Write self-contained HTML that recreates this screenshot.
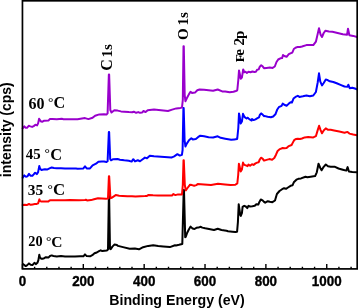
<!DOCTYPE html>
<html><head><meta charset="utf-8"><style>
html,body{margin:0;padding:0;background:#fff;}
svg{display:block;will-change:transform;}
.sans{font-family:"Liberation Sans",sans-serif;font-weight:bold;}
.serif{font-family:"Liberation Serif",serif;font-weight:bold;}
</style></head><body>
<svg width="358" height="308" viewBox="0 0 358 308">
<rect width="358" height="308" fill="#fff"/>
<g fill="none" stroke-width="2" stroke-linejoin="round" stroke-linecap="round">
<polyline stroke="#000" points="23,264.1 24,264.8 25.7,266.1 27,265.4 29,263.4 30.7,264.8 32.4,265.1 34.4,262.8 35.8,264.1 37.4,262.8 38.4,260.1 39.3,254.7 40,257.4 41.1,258.7 42.5,258.7 44.2,258.2 45.9,257.2 48.4,257.6 50,256 51.7,255.4 53.4,256 56.8,256.4 61,256.1 65,256.4 70,256.4 75,256.6 80,256.2 83.4,256.3 85,254.4 86.7,256.1 90.1,256.3 92.3,255.2 94.5,253.3 96.8,252.5 99,251.1 100.7,250.3 102.3,251.1 104.6,250.7 106.8,250.5 108,249.4 108.85,196 109.15,196 110,248.8 110.7,249.2 112.4,246.6 114.6,244.4 116.9,244.9 118,245.9 123,247.1 129.7,248.8 134.8,248.4 139,249.3 143.1,247.2 148.2,245.9 153.2,245.2 158.2,245.9 163.2,246.4 169.9,247.1 175,245.2 176,245.4 179,244.8 182.3,244 183.7,190 184,190 185.2,237.2 185.8,236.8 187.2,232.7 188.7,229.7 190.6,226.6 192.6,228.6 194.5,229 196.4,227.8 198.4,227.6 200.8,226.8 202.3,227.6 205.2,228.3 209,229 214,230 217.75,228.75 221.5,230 226.5,230.75 228,231.2 232.4,231.7 235.3,232.1 237.1,231.7 237.9,222.2 238.7,204.2 239.4,209 240.3,215.2 240.8,215.9 241.9,213.2 242.6,206.9 244.2,205.8 245.8,206.5 247.3,208.1 248.5,205.8 250.1,206.5 252.4,206.2 254.75,205.8 256.3,204.2 258.3,204.6 259.4,201.9 260.8,199.5 262.6,200.3 264,201.9 265.2,202.7 267.8,201.2 269.8,201.8 272.4,202.2 275,200.5 276.9,194 279.5,191 282.1,189.2 284.1,188.2 286,188.8 288,187.5 290.6,185.8 292.5,185.3 293.8,182.3 296.4,179.7 298.4,178.8 301,178.4 305.5,176.7 307.3,177.2 310.7,176.7 315.1,176.1 316.8,172.3 318.5,163.7 320.3,168 321.6,170.3 323.7,166.8 325.8,164.5 328,166.3 330.7,166.8 335,166.8 338.5,168.5 342.8,169.7 346.3,170.6 347.6,167.1 348.9,171.5 352.3,172 357,172.3"/>
<polyline stroke="#ff0000" points="22.7,205.1 24.7,204.8 26.7,205.1 29,204 30.7,204.8 32.7,204.4 34.8,204.1 36.8,203.9 38.1,203.4 39.4,199.4 40.1,201.1 41.5,201.5 43.5,201.6 48.4,201.4 49.5,200.5 50.5,200.3 56.8,200.3 65,200.3 70,200.1 79,200.3 85,200.1 85.8,199.7 87,200.4 91,200.1 94,199.3 98,198.2 102,198.4 106,198.7 108,198.6 108.9,176.2 109.2,176.2 110.4,198.2 111.6,197.8 115.7,195.1 119.2,195.7 122.7,195.9 127.4,196.3 132,196.3 135.5,196.6 140,196.3 145,196.1 147,195.9 148.6,194.9 153,195.3 158,195.6 163,195.6 168.2,195.4 172,195.4 173.4,194.1 175.4,195.1 178,194.4 182,194.4 182.8,185 183.5,160.3 183.8,160.3 184.8,185 185.8,190.4 187.5,188 189.5,185.4 190,184.7 192,185.1 194.2,185.8 196.3,185.1 197.7,184.1 204,184.4 211,185.1 218,183.7 225,184.4 230.5,185.1 235.4,184.7 237.3,183.5 238.2,175 238.9,163.8 239.5,166 240.7,171.6 241.9,169.6 243,162.6 244.2,164.9 245.8,165.3 247.6,166.1 248.5,164.5 250.1,165.7 252,164.3 253.6,164.9 255.5,163.4 257.1,162.6 258.7,162.2 259.8,159.5 261,157.75 262.6,158.6 264,160.6 264.2,160.6 266.5,159.9 269.3,159.1 272.1,159.7 274.3,158 276,154.7 277.6,151 279.9,149.1 282.7,148 284.3,148.3 286.6,148 288.8,146.1 291.6,145 292.7,142.9 294.4,139.8 296.1,139 297.8,138.7 300,139 302,138.5 304.7,137.4 308.1,137.1 313.3,137.4 315.9,136.2 317.7,130.1 319.1,125.8 320.6,130.1 322,133.3 323.7,130.5 325.8,128.4 328.1,129.8 330.7,129.8 334.1,130.5 339.3,131.5 344.5,132.7 347.5,131.9 349.4,133.6 353.2,134.5 357,135.3"/>
<polyline stroke="#0000ff" points="22.7,177.8 24.3,175.4 26,176.8 27.4,176.4 29,173.9 30.7,175.8 32.4,175.8 33.7,174.4 35.1,172.7 36.8,174.1 38.1,172.1 39.3,166 40.1,168.7 41.5,170 43.5,169.5 45,169.2 47.5,169.4 50,168.2 51.7,167.5 54,167.9 56.8,168.2 61,168.3 65,168.4 70,168.5 76,168.6 77.5,168.7 83.4,168.4 85,166.4 86.7,168.4 90,168.4 92.6,165.4 96,163.7 98.4,161.7 101.8,161.4 104,161.5 106.5,162 107.6,161.2 108.85,132 109.15,132 110.2,159 111,160.3 113.2,159.2 117.6,159 119.9,159.7 124.3,160.3 128.8,160.8 131.6,161.6 133.3,159.2 135,161.4 137.8,160.3 140,161.2 142,159.7 144.9,157.6 147,158.3 149.8,155.8 154,156.3 161,156.7 168,157.2 171.4,157.6 174.2,156.3 177.4,154.2 179.8,155.6 181.9,154.9 182.6,150 183.4,108 183.7,108 184.6,140 185.4,146.5 186.8,143.6 189,140.3 191.3,138.3 192.8,139.4 195.8,139 198,137.2 200.3,135.7 204.1,136.3 208.6,137.2 213.1,137.5 217.7,136.3 220.7,137.8 225.2,138.7 231.2,139.8 234.3,139.4 237.1,139 237.3,138 238.3,128 239,113.4 239.6,116 240.7,123.6 241.9,121.6 243,113.8 244.2,116.5 245.4,117.7 246.5,118.5 247.7,117.7 248.5,118.5 250.1,119.7 251.6,120.5 252,119 253.6,120.1 255.5,119.3 257.5,118.1 259,117.3 259.8,115 261.2,113.4 262.6,114.6 264,116.2 264.2,115.9 267.6,116.8 270.9,117.3 273.2,116.5 275.4,114.3 277.1,109.8 278.8,107.2 281.6,105.9 282.7,103.6 284.3,104.8 286.6,105.7 288.8,103.6 290.5,102.3 291.9,102.5 293.5,98.6 295.5,96.9 297.8,95.8 299.4,96.9 302.9,96.3 306.4,95.5 309.9,96.3 313.3,95.5 315.9,92 317.7,82.5 319,73.3 320.3,81.6 322,85.4 323.7,83 325.8,79.5 327.2,79.9 329.8,81.3 333.3,82 336.7,83.3 341.1,85.1 344.5,86.5 347.6,86.8 348.3,84.7 349.7,88.2 352.3,87.7 354.9,88.5 357,89.4"/>
<polyline stroke="#9900cc" points="22.7,128.4 24.3,126.4 25.7,127.8 27,127.8 28.7,125.8 30.4,126.4 32.1,126.9 33.7,126.1 35.4,124.8 37.1,125.4 38.1,123.4 39.1,118.7 39.8,120 40.8,121.1 41,121.4 42.5,121.7 44.2,120.7 48.4,120.6 50,118.9 52.5,119 56.8,119.2 61.8,118.8 63.5,119.2 70,119.2 77.5,119.2 85,118.1 88.4,119.1 92.6,117.7 95.1,115.7 99.3,114.4 104,114.3 106.5,114.5 107.6,113.4 108.85,74.6 109.15,74.6 110.3,110 111.5,112.5 114.3,110.3 117.6,110.6 121,111.4 124.3,111.7 128.8,112.1 132.2,112.3 133.8,111.7 136.1,112.8 138.3,112.1 140,112.8 142,112.6 143.5,111 145.6,112.1 147.7,110.3 154,109.6 161,110.3 168,111 172.1,109.6 176.3,108.4 180.5,107.9 182,107.5 182.8,100 183.5,46.3 183.8,46.3 184.7,95 185.4,101.2 186.8,98.3 189,94.1 190.5,91.8 192,92.9 195,92.6 197.3,90.3 199.6,89.5 204.1,89.8 208.6,90.3 213.1,90.7 217.7,89.5 222.2,91.4 225.2,91.4 229.7,92.3 233.5,91.8 235.8,91 237.1,90.5 237.3,90 238.3,80 239,70.6 239.6,73 240.7,78.8 241.9,77.6 243.2,69.4 244.2,72.2 245.4,71.8 246.9,72.9 248.5,71.8 250.5,72.2 252.4,71.5 254.4,72 255.9,71.8 257.1,69.8 258.7,69.4 259.8,66.7 261.2,65.3 262.6,66.3 264,68.2 266.5,67.9 269.8,67.6 272.6,67.9 274.8,66.5 276.5,62 278.2,59.5 280.4,58.3 282.1,58.1 283,55 284.3,56 286.6,56.8 288.8,54.2 291,53.1 292.4,52.5 293.8,49 295.5,47.8 297.8,46.9 300,46.9 302,46.5 306.4,45.1 313.3,45.1 315.9,41.7 317.7,33.9 319,28.3 320.6,34.7 322,37 323.7,33 325.5,30.7 328.9,31.5 332.4,31.8 337.6,33 342.8,34.2 347.1,34.7 348,28.7 349.4,35.2 353.2,35.9 357,37"/>
</g>
<path d="M22.45 268.9 V264.1 M34.62 268.9 V266.7 M46.79 268.9 V266.7 M58.97 268.9 V266.7 M71.14 268.9 V266.7 M83.31 268.9 V264.1 M95.48 268.9 V266.7 M107.65 268.9 V266.7 M119.83 268.9 V266.7 M132.00 268.9 V266.7 M144.17 268.9 V264.1 M156.34 268.9 V266.7 M168.51 268.9 V266.7 M180.69 268.9 V266.7 M192.86 268.9 V266.7 M205.03 268.9 V264.1 M217.20 268.9 V266.7 M229.37 268.9 V266.7 M241.55 268.9 V266.7 M253.72 268.9 V266.7 M265.89 268.9 V264.1 M278.06 268.9 V266.7 M290.23 268.9 V266.7 M302.41 268.9 V266.7 M314.58 268.9 V266.7 M326.75 268.9 V264.1 M338.92 268.9 V266.7 M351.09 268.9 V266.7" stroke="#000" stroke-width="1.4" fill="none"/>
<rect x="22.45" y="0.8" width="334.75" height="268.1" fill="none" stroke="#000" stroke-width="1.7"/>
<g class="sans" font-size="13.4" fill="#000" stroke="#000" stroke-width="0.35"><text transform="translate(22.45,285.6) scale(1,1.16)" text-anchor="middle">0</text><text transform="translate(83.31,285.6) scale(1,1.16)" text-anchor="middle">200</text><text transform="translate(144.17,285.6) scale(1,1.16)" text-anchor="middle">400</text><text transform="translate(205.03,285.6) scale(1,1.16)" text-anchor="middle">600</text><text transform="translate(265.89,285.6) scale(1,1.16)" text-anchor="middle">800</text><text transform="translate(326.75,285.6) scale(1,1.16)" text-anchor="middle">1000</text></g>
<text class="sans" font-size="14.2" x="177" y="305" text-anchor="middle">Binding Energy (eV)</text>
<text class="sans" font-size="14" transform="translate(10.5,129.7) rotate(-90)" text-anchor="middle">intensity (cps)</text>
<g class="serif">
<text font-size="16" x="28.6" y="108.5">60</text>
<text font-size="14.85" transform="translate(25.8,159.4) scale(1,1.05)">45</text>
<text font-size="15.4" x="27.8" y="195.3">35</text>
<text font-size="14.3" x="28.3" y="246.4">20</text>
<text font-size="16.2" x="53.6" y="108.2">C</text>
<text font-size="16.4" x="50.3" y="159.7">C</text>
<text font-size="16.8" x="52.9" y="195.2">C</text>
<text font-size="15.5" x="51.3" y="246.5">C</text>
</g>
<g font-family="Liberation Serif" font-weight="bold" font-size="13.5">
<text x="47.9" y="105.6">°</text>
<text x="44.4" y="157.4">°</text>
<text x="47.6" y="193.1">°</text>
<text x="46" y="244.8">°</text>
</g>
<g class="serif" font-size="15">
<text font-size="16" transform="translate(111.8,70.8) rotate(-90)">C</text>
<text transform="translate(111.8,57.5) rotate(-90)">1s</text>
<text transform="translate(188.3,40.0) rotate(-90)">O</text>
<text transform="translate(188.3,25.48) rotate(-90)">1s</text>
<text font-size="13.5" transform="translate(243.8,62.2) rotate(-90)">F</text>
<text transform="translate(243.7,55.835) rotate(-90)">e 2</text>
<text transform="translate(243.7,38.9) rotate(-90)">p</text>
</g>
</svg>
</body></html>
